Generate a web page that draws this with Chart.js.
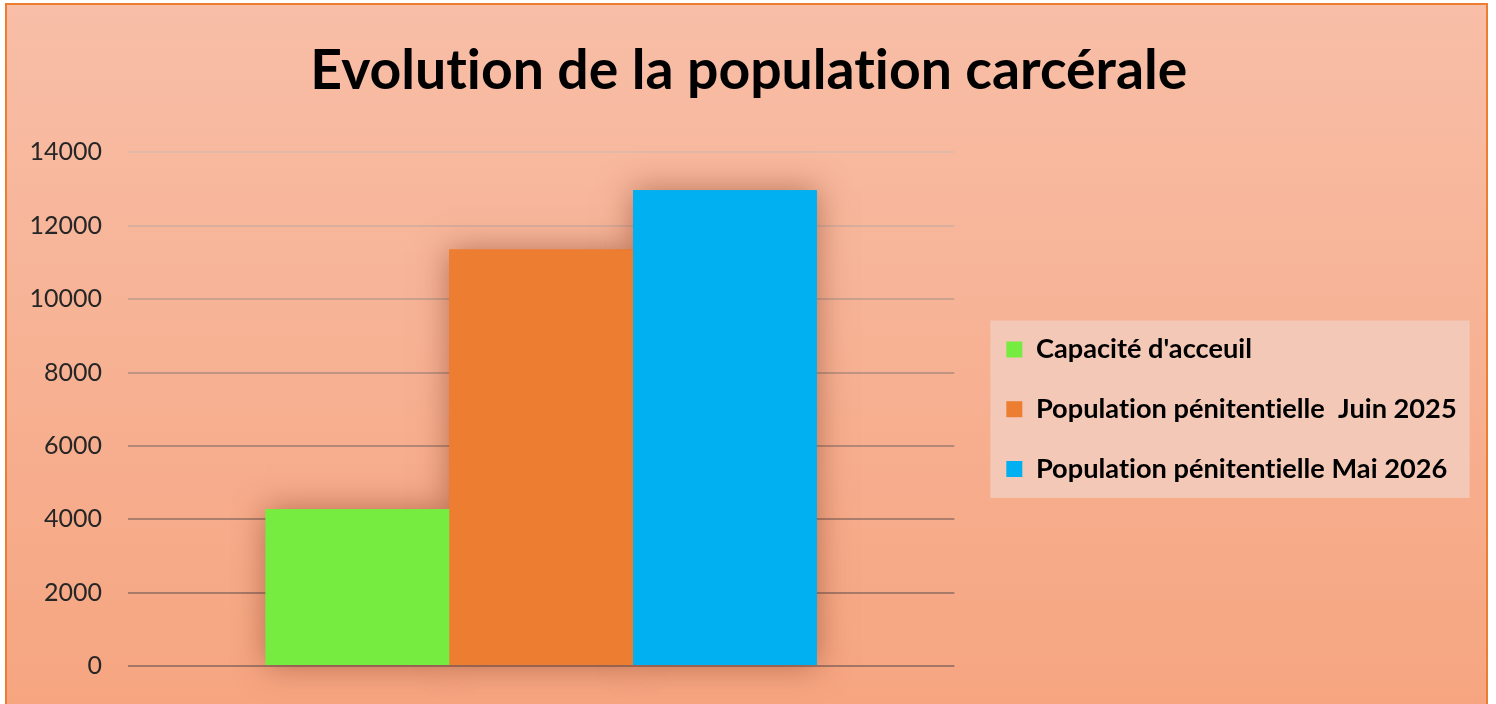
<!DOCTYPE html>
<html><head><meta charset="utf-8">
<script src="https://cdn.jsdelivr.net/npm/chart.js@4"></script>
<style>html,body{margin:0;padding:0;background:#fff;overflow:hidden}</style>
</head><body>
<canvas id="c" width="1496" height="704"></canvas>
<script>
// ---- data ----
const categories = ['Population carcérale'];
const seriesNames = ["Capacité d'acceuil", 'Population pénitentielle  Juin 2025', 'Population pénitentielle Mai 2026'];
const seriesValues = [4280, 11350, 12970];
const seriesColors = ['#76EC40', '#ED7D31', '#00B0F0'];
const yTicks = [0, 2000, 4000, 6000, 8000, 10000, 12000, 14000];
const yTickLabels = ['0', '2000', '4000', '6000', '8000', '10000', '12000', '14000'];
const titleText = 'Evolution de la population carcérale';

// ---- styling helpers ----
const W = 1496, H = 704;
function fitSize(text, weight, family, target) {
  const c = document.createElement('canvas').getContext('2d');
  try { c.textRendering = 'optimizeSpeed'; } catch (e) {}
  c.font = weight + ' 100px ' + family;
  return 100 * target / c.measureText(text).width;
}
const FAMILY = 'Lato';
const titleSize = fitSize(titleText, 'bold', FAMILY, 877);
const longest = seriesNames.reduce((a, b) => a.length > b.length ? a : b);
const legSize = fitSize(longest, 'bold', FAMILY, 421);
const legPad = 59.7 - legSize;
const boxW = 16;
const plotRight = 955, markerX = 1007;
const gapAxisW = markerX - legPad - plotRight;
const legendW = legPad + boxW + legSize / 2 + 421 + 10;
const padRight = W - plotRight - gapAxisW - legendW;

const gridShade = {0:'#A37666', 2000:'#A77A69', 4000:'#AB7E6D', 6000:'#B48877', 8000:'#BF9483', 10000:'#CBA190', 12000:'#D8AE9D', 14000:'#E3B8A7'};

const bgPlugin = {
  id: 'bg',
  beforeDraw(chart) {
    const ctx = chart.ctx;
    try { ctx.textRendering = 'optimizeSpeed'; } catch (e) {}
    ctx.save();
    ctx.fillStyle = '#fff';
    ctx.fillRect(0, 0, W, H);
    const g = ctx.createLinearGradient(0, 4, 0, H);
    g.addColorStop(0, '#F8BEA7');
    g.addColorStop(1, '#F6A580');
    ctx.fillStyle = g;
    ctx.fillRect(6, 4, 1481, H);
    ctx.strokeStyle = '#ED7D31';
    ctx.lineWidth = 2;
    ctx.strokeRect(6, 4, 1481, H + 10);
    const hb = chart.legend && chart.legend.legendHitBoxes;
    if (hb && hb.length) {
      const first = hb[0], last = hb[hb.length - 1];
      const off = (first.height - boxW) / 2;
      const l = first.left - 16;
      const t = first.top + off - 21;
      const r = Math.max(...hb.map(h => h.left + h.width)) + 12;
      const b = last.top + off + boxW + 21;
      ctx.fillStyle = '#F4C8B6';
      ctx.fillRect(l, t, r - l, b - t);
    }
    ctx.restore();
  }
};

const shadowPlugin = {
  id: 'barShadow',
  beforeDatasetsDraw(chart) {
    const ctx = chart.ctx;
    ctx.save();
    ctx.shadowColor = 'rgba(120,45,20,0.5)';
    ctx.shadowBlur = 30;
    chart.data.datasets.forEach((d, i) => {
      chart.getDatasetMeta(i).data.forEach(el => el.draw(ctx));
    });
    ctx.restore();
  }
};

new Chart(document.getElementById('c'), {
  type: 'bar',
  data: {
    labels: categories,
    datasets: seriesNames.map((name, i) => ({
      label: name,
      data: [seriesValues[i]],
      backgroundColor: seriesColors[i],
      borderWidth: 0,
      barPercentage: 1.0,
      categoryPercentage: 0.667
    }))
  },
  options: {
    responsive: false,
    animation: false,
    devicePixelRatio: 1,
    layout: { padding: { left: 30, right: padRight, top: 0, bottom: 38 } },
    plugins: {
      title: {
        display: true,
        text: titleText,
        color: '#000',
        font: { family: FAMILY, weight: 'bold', size: titleSize },
        padding: { top: 38, bottom: 48 }
      },
      legend: {
        position: 'right',
        fullSize: false,
        align: 'center',
        maxWidth: 800,
        labels: {
          boxWidth: boxW,
          boxHeight: boxW,
          padding: legPad,
          color: '#000',
          font: { family: FAMILY, weight: 'bold', size: legSize }
        }
      },
      tooltip: { enabled: false }
    },
    scales: {
      x: { display: false, offset: true },
      y: {
        min: 0, max: 14000,
        afterBuildTicks: s => { s.ticks = yTicks.map(v => ({ value: v })); },
        afterFit: s => { s.width = 98; },
        ticks: {
          padding: 0,
          color: '#262626',
          font: { family: FAMILY, size: 25 },
          callback: (v) => yTickLabels[yTicks.indexOf(v)]
        },
        grid: {
          drawTicks: true,
          tickLength: 26,
          tickColor: 'rgba(0,0,0,0)',
          lineWidth: 2,
          color: c => gridShade[c.tick && c.tick.value] || '#B08474'
        },
        border: { display: false }
      },
      yGap: {
        position: 'right',
        display: true,
        ticks: { display: false },
        grid: { display: false, drawTicks: false },
        border: { display: false },
        afterFit: s => { s.width = gapAxisW; }
      }
    }
  },
  plugins: [bgPlugin, shadowPlugin]
});
</script>
</body></html>
